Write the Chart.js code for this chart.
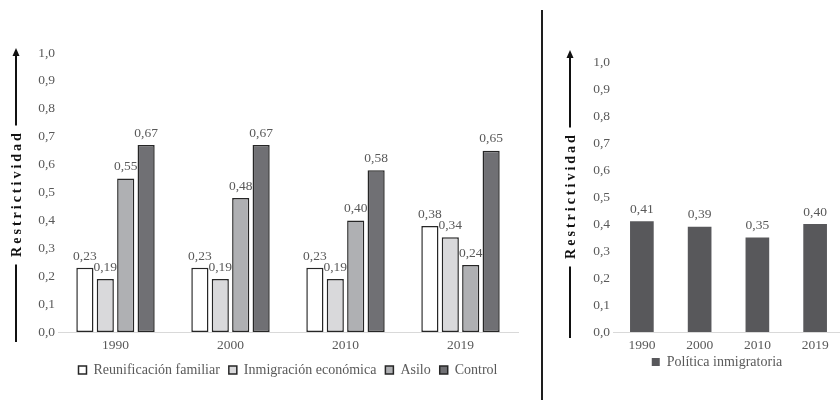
<!DOCTYPE html>
<html>
<head>
<meta charset="utf-8">
<script src="https://cdn.jsdelivr.net/npm/chart.js@4.4.0/dist/chart.umd.min.js"></script>
<style>
  html, body { margin: 0; padding: 0; background: #fff; overflow: hidden; }
  #wrap { position: relative; width: 840px; height: 400px; overflow: hidden; }
  #left { position: absolute; left: 0; top: 0; }
  #right { position: absolute; left: 545px; top: 0; }
  #sep { position: absolute; left: 541px; top: 10px; width: 2px; height: 390px; background: #1e1e1e; }
</style>
</head>
<body>
<div id="wrap">
  <canvas id="left" width="535" height="400"></canvas>
  <div id="sep"></div>
  <canvas id="right" width="300" height="400"></canvas>
</div>
<script>
// datos
const years = ["1990", "2000", "2010", "2019"];
const reunificacion = [0.23, 0.23, 0.23, 0.38];
const inmigracion = [0.19, 0.19, 0.19, 0.34];
const asilo = [0.55, 0.48, 0.40, 0.24];
const control = [0.67, 0.67, 0.58, 0.65];
const politica = [0.41, 0.39, 0.35, 0.40];
const yMin = 0, yMax = 1, yStep = 0.1;

const serif = "'Liberation Serif', 'Times New Roman', serif";
const grey = "#595959";

function fmt(v, d) {
  return v.toFixed(d).replace(".", ",");
}

// etiquetas de valor encima de las barras
const valueLabels = {
  id: "valueLabels",
  afterDatasetsDraw(chart) {
    const ctx = chart.ctx;
    ctx.save();
    ctx.font = "13.5px " + serif;
    ctx.fillStyle = grey;
    ctx.textAlign = "center";
    ctx.textBaseline = "bottom";
    chart.data.datasets.forEach((ds, i) => {
      chart.getDatasetMeta(i).data.forEach((bar, j) => {
        ctx.fillText(fmt(ds.data[j], 2), bar.x, bar.y - 5);
      });
    });
    ctx.restore();
  }
};

// titulo del eje con flecha
const axisTitle = {
  id: "axisTitle",
  afterDraw(chart, args, opts) {
    const ctx = chart.ctx;
    const x = opts.x, top = opts.top, bottom = opts.bottom, cy = opts.center;
    ctx.save();
    ctx.font = "bold 14px " + serif;
    ctx.letterSpacing = "3px";
    const w = ctx.measureText("Restrictividad").width;
    ctx.translate(x + 1, cy);
    ctx.rotate(-Math.PI / 2);
    ctx.fillStyle = "#111";
    ctx.textAlign = "center";
    ctx.textBaseline = "middle";
    ctx.fillText("Restrictividad", 1.5, 0);
    ctx.restore();

    ctx.save();
    ctx.strokeStyle = "#111";
    ctx.lineWidth = 2;
    ctx.beginPath();
    ctx.moveTo(x, bottom);
    ctx.lineTo(x, cy + w / 2 + 6);
    ctx.moveTo(x, cy - w / 2 - 6);
    ctx.lineTo(x, top + 5);
    ctx.stroke();
    ctx.fillStyle = "#111";
    ctx.beginPath();
    ctx.moveTo(x, top);
    ctx.lineTo(x - 3.5, top + 8);
    ctx.lineTo(x + 3.5, top + 8);
    ctx.closePath();
    ctx.fill();
    ctx.restore();
  }
};

function yScale(width) {
  return {
    min: yMin,
    max: yMax,
    grid: { display: false, drawTicks: false },
    border: { display: false },
    ticks: {
      stepSize: yStep,
      padding: 3,
      color: grey,
      font: { family: serif, size: 13.5 },
      callback: v => fmt(v, 1)
    },
    afterFit: s => { s.width = width; }
  };
}

function xScale(height) {
  return {
    grid: { display: false, drawTicks: false },
    border: { display: true, color: "#d9d9d9", width: 1 },
    ticks: { padding: 5, color: grey, font: { family: serif, size: 13.5 } },
    afterFit: s => { s.height = height; }
  };
}

function legend(fullSize, pad) {
  return {
    position: "bottom",
    fullSize: fullSize,
    labels: {
      boxWidth: 8,
      boxHeight: 8,
      padding: pad,
      color: grey,
      font: { family: serif, size: 14 }
    }
  };
}

const edge = "#262626";

new Chart(document.getElementById("left"), {
  type: "bar",
  data: {
    labels: years,
    datasets: [
      { label: "Reunificación familiar", data: reunificacion, backgroundColor: "#ffffff", borderColor: edge, borderWidth: 1.5, borderSkipped: false },
      { label: "Inmigración económica", data: inmigracion, backgroundColor: "#d9d9db", borderColor: edge, borderWidth: 1.5, borderSkipped: false },
      { label: "Asilo", data: asilo, backgroundColor: "#afb0b3", borderColor: edge, borderWidth: 1.5, borderSkipped: false },
      { label: "Control", data: control, backgroundColor: "#707074", borderColor: edge, borderWidth: 1.5, borderSkipped: false }
    ]
  },
  options: {
    responsive: false,
    animation: false,
    categoryPercentage: 0.71,
    barPercentage: 0.84,
    layout: { padding: { top: 53, left: 0, right: 17, bottom: 13 } },
    scales: { x: xScale(22), y: yScale(58) },
    plugins: {
      legend: legend(false, 9),
      tooltip: { enabled: false },
      axisTitle: { x: 16, top: 48, bottom: 342, center: 195 }
    }
  },
  plugins: [valueLabels, axisTitle]
});

new Chart(document.getElementById("right"), {
  type: "bar",
  data: {
    labels: years,
    datasets: [
      { label: "Política inmigratoria", data: politica, backgroundColor: "#58585b", borderWidth: 0 }
    ]
  },
  options: {
    responsive: false,
    animation: false,
    categoryPercentage: 1,
    barPercentage: 0.41,
    layout: { padding: { top: 62, left: 45, right: 1, bottom: 21 } },
    scales: { x: xScale(21), y: yScale(23) },
    plugins: {
      legend: legend(true, 2),
      tooltip: { enabled: false },
      axisTitle: { x: 25, top: 50, bottom: 338, center: 197 }
    }
  },
  plugins: [valueLabels, axisTitle]
});
</script>
</body>
</html>
